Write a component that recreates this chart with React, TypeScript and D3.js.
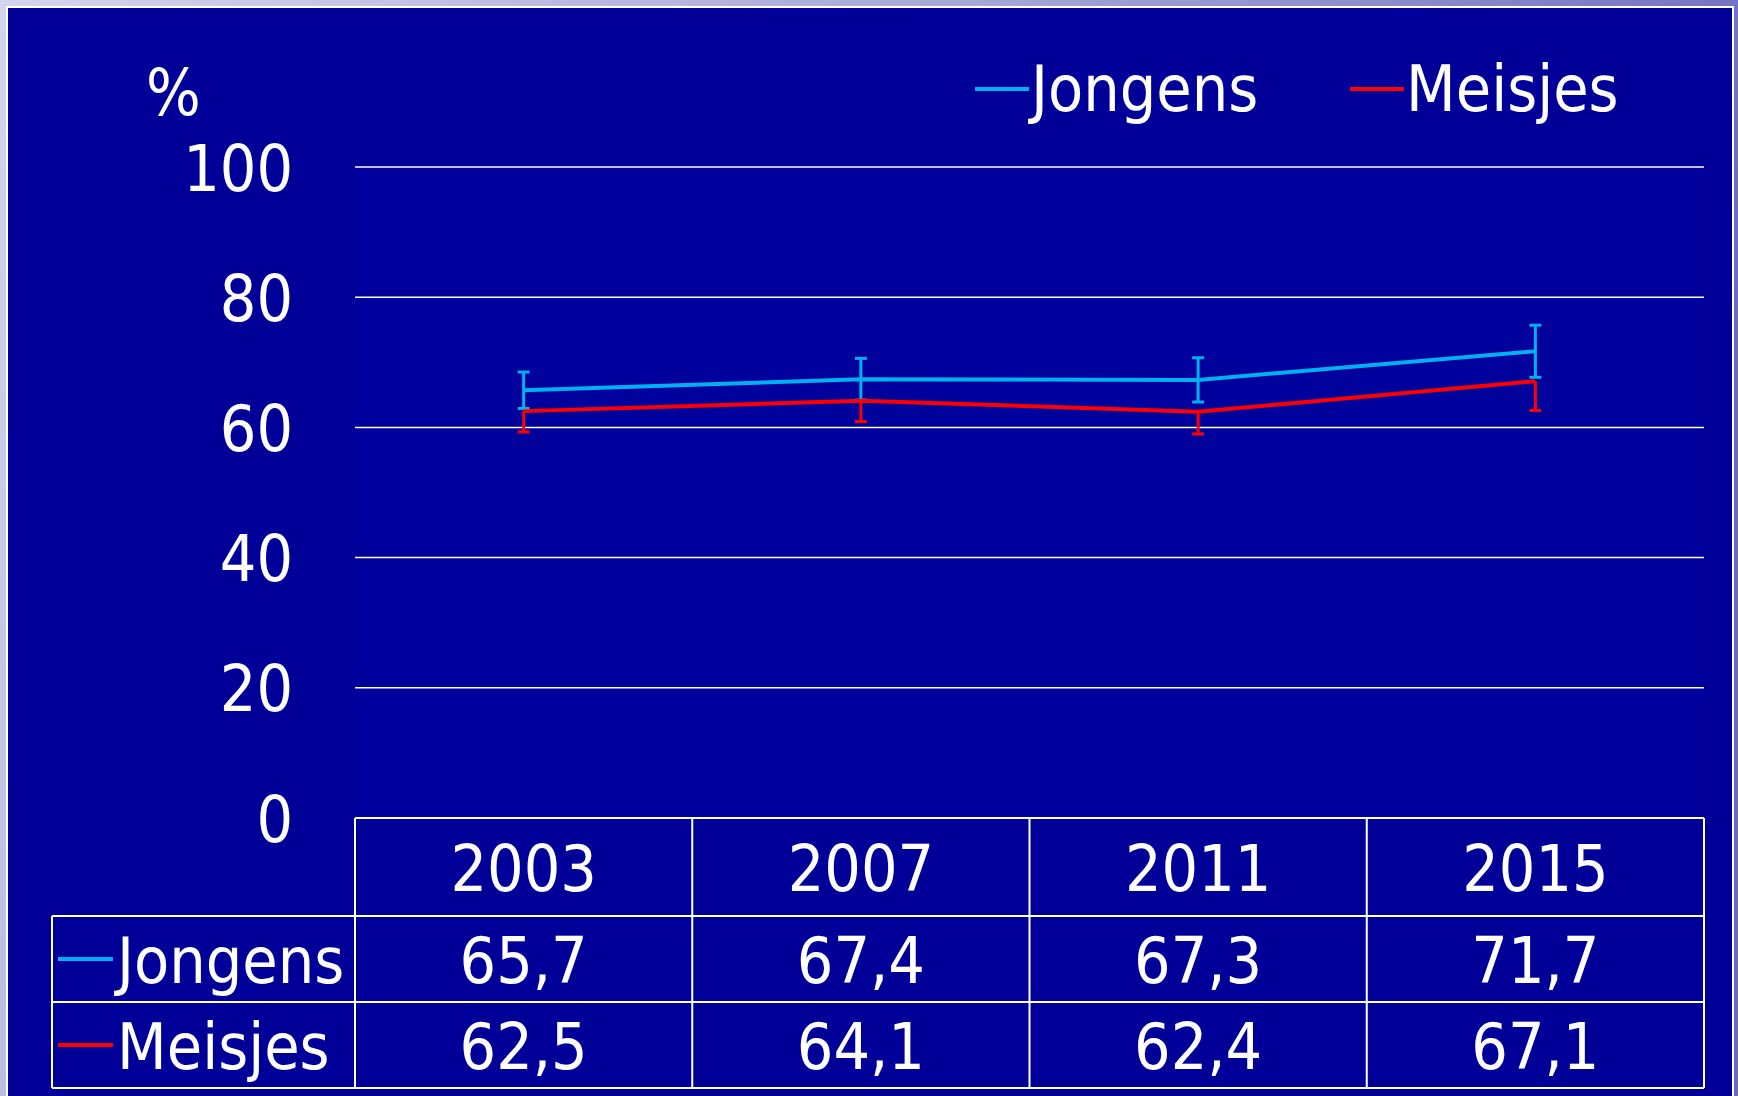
import React from 'react'
import * as d3 from 'd3'

const years = ['2003', '2007', '2011', '2015']
const jongens = [65.7, 67.4, 67.3, 71.7]
const meisjes = [62.5, 64.1, 62.4, 67.1]
const jongensErr = [2.8, 3.2, 3.4, 4.0]
const meisjesErr = [3.2, 3.2, 3.4, 4.5]
const yTicks = [0, 20, 40, 60, 80, 100]

// Meisjes only shows the minus side of its error bars
const series = [
  { name: 'Jongens', values: jongens, err: jongensErr, color: '#00b0f0', plus: true },
  { name: 'Meisjes', values: meisjes, err: meisjesErr, color: '#ff0000', plus: false },
]

const W = 1738
const H = 1096
const font = "Tahoma, 'DejaVu Sans Condensed', 'DejaVu Sans', sans-serif"

const App = () => {
  React.useEffect(() => {
    document.body.style.margin = '0'
  }, [])

  const left = 355
  const right = 1704
  const top = 167
  const bottom = 818
  const rowH = 86
  const tableLeft = 52
  const yearRowBottom = 916

  const x = d3.scaleBand().domain(years).range([left, right])
  const y = d3.scaleLinear().domain([0, 100]).range([bottom, top])
  const cx = (yr: string) => (x(yr) as number) + x.bandwidth() / 2

  const line = d3
    .line<number>()
    .x((_, i) => cx(years[i]))
    .y((d) => y(d))

  // draw red first so blue sits on top
  const drawOrder = [series[1], series[0]]
  const rows = series.map((s, i) => ({ ...s, top: yearRowBottom + i * rowH }))

  return (
    <svg width={W} height={H} style={{ display: 'block' }} fontFamily={font}>
      <defs>
        <linearGradient id="bg" x1="0" y1="0" x2="1" y2="0.3">
          <stop offset="0" stopColor="#d4d4ec" />
          <stop offset="0.5" stopColor="#a8a8d8" />
          <stop offset="1" stopColor="#6a6ac0" />
        </linearGradient>
      </defs>
      <rect width={W} height={H} fill="url(#bg)" />
      <rect x={7} y={7} width={1726} height={H} fill="#000099" stroke="#ffffff" strokeWidth={2} />
      <rect x={left} y={top} width={right - left} height={bottom - top} fill="#00009c" />

      {yTicks.map((t) => (
        <g key={t}>
          {t > 0 && <line x1={left} x2={right} y1={y(t)} y2={y(t)} stroke="#ffffff" strokeWidth={1.5} />}
          <text x={293} y={y(t) + 23.5} textAnchor="end" fontSize={64} fill="#ffffff">
            {t}
          </text>
        </g>
      ))}
      <text x={146} y={115} fontSize={64} fill="#ffffff">
        %
      </text>

      {/* legend */}
      {series.map((s, i) => {
        const lx = i === 0 ? 975 : 1350
        return (
          <g key={s.name}>
            <line x1={lx} x2={lx + 54} y1={89} y2={89} stroke={s.color} strokeWidth={4} />
            <text x={lx + 56} y={111} fontSize={64} fill="#ffffff">
              {s.name}
            </text>
          </g>
        )
      })}

      {/* error bars */}
      {drawOrder.map((s) =>
        s.values.map((v, i) => {
          const px = cx(years[i])
          const y1 = s.plus ? y(v + s.err[i]) : y(v)
          const y2 = y(v - s.err[i])
          return (
            <g key={s.name + i} stroke={s.color} strokeWidth={3}>
              <line x1={px} x2={px} y1={y1} y2={y2} />
              {s.plus && <line x1={px - 6} x2={px + 6} y1={y1} y2={y1} />}
              <line x1={px - 6} x2={px + 6} y1={y2} y2={y2} />
            </g>
          )
        })
      )}

      {/* lines */}
      {drawOrder.map((s) => (
        <path key={s.name} d={line(s.values) || ''} fill="none" stroke={s.color} strokeWidth={4} />
      ))}

      {/* data table */}
      <g stroke="#ffffff" strokeWidth={2} fill="none">
        <line x1={left} x2={right} y1={bottom} y2={bottom} />
        {[0, 1, 2].map((r) => (
          <line key={r} x1={tableLeft} x2={right} y1={yearRowBottom + r * rowH} y2={yearRowBottom + r * rowH} />
        ))}
        <line x1={tableLeft} x2={tableLeft} y1={yearRowBottom} y2={yearRowBottom + 2 * rowH} />
        {years.map((yr) => (
          <line key={yr} x1={x(yr) as number} x2={x(yr) as number} y1={bottom} y2={yearRowBottom + 2 * rowH} />
        ))}
        <line x1={right} x2={right} y1={bottom} y2={yearRowBottom + 2 * rowH} />
      </g>
      {years.map((yr) => (
        <text key={yr} x={cx(yr)} y={(bottom + yearRowBottom) / 2 + 23.5} textAnchor="middle" fontSize={64} fill="#ffffff">
          {yr}
        </text>
      ))}
      {rows.map((r) => (
        <g key={r.name}>
          <line x1={58} x2={113} y1={r.top + rowH / 2} y2={r.top + rowH / 2} stroke={r.color} strokeWidth={4} />
          <text x={117} y={r.top + rowH / 2 + 23.5} fontSize={64} fill="#ffffff">
            {r.name}
          </text>
          {r.values.map((v, i) => (
            <text key={i} x={cx(years[i])} y={r.top + rowH / 2 + 23.5} textAnchor="middle" fontSize={64} fill="#ffffff">
              {v.toFixed(1).replace('.', ',')}
            </text>
          ))}
        </g>
      ))}
    </svg>
  )
}

export default App
